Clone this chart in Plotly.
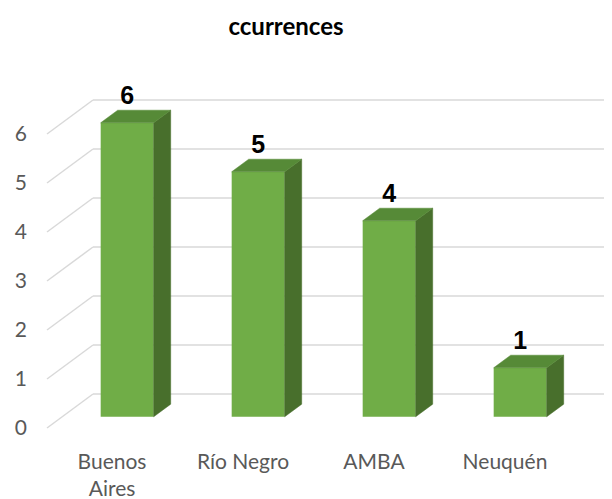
import plotly.graph_objects as go

# ---- data ----
categories = ["Buenos Aires", "Río Negro", "AMBA", "Neuquén"]
tick_labels = ["Buenos<br>Aires", "Río Negro", "AMBA", "Neuquén"]
values = [6, 5, 4, 1]
y_ticks = [0, 1, 2, 3, 4, 5, 6]
title_text = "ccurrences"

# ---- pseudo-3D geometry (in axis units) ----
DX = 46 / 131      # depth shift along x for full depth
DY = 34 / 49       # depth shift along y for full depth
T0, T1 = 0.33, 0.70  # bar front / back depth
W = 53 / 131       # bar width
XL = (47 - 112) / 131  # left end of the floor/wall grid at front plane

# page layout (browser body has an 8px margin)
OFF = 8
PAGE_W, PAGE_H = 612, 499
WIDTH, HEIGHT = PAGE_W - OFF, PAGE_H - OFF
PLOT_L, PLOT_R, PLOT_T, PLOT_B = 28, 612, 60, 447   # page pixels
L = PLOT_L - OFF
R = 0
T = PLOT_T - OFF
B = HEIGHT - (PLOT_B - OFF)
PX_X, PX_Y = 131, 49
x_min = (PLOT_L - 112) / PX_X
x_max = (PLOT_R - 112) / PX_X
y_min = (428 - PLOT_B) / PX_Y
y_max = (428 - PLOT_T) / PX_Y

FRONT = "#70AD47"
TOP = "#568A37"
SIDE = "#486F2C"
GRID = "#D9D9D9"

xs = list(range(len(categories)))
fig = go.Figure()

# front faces
fig.add_trace(go.Bar(
    x=[i + T0 * DX for i in xs], y=values, base=T0 * DY, width=W,
    marker=dict(color=FRONT, line=dict(width=0)), hoverinfo="skip"))

# side and top faces
sx, sy = [], []
tx, ty = [], []
for i, v in zip(xs, values):
    xr0 = i + W / 2 + T0 * DX
    xr1 = i + W / 2 + T1 * DX
    xl0 = i - W / 2 + T0 * DX
    xl1 = i - W / 2 + T1 * DX
    sx += [xr0, xr1, xr1, xr0, xr0, None]
    sy += [T0 * DY, T1 * DY, v + T1 * DY, v + T0 * DY, T0 * DY, None]
    tx += [xl0, xr0, xr1, xl1, xl0, None]
    ty += [v + T0 * DY, v + T0 * DY, v + T1 * DY, v + T1 * DY, v + T0 * DY, None]

fig.add_trace(go.Scatter(x=sx, y=sy, mode="lines", fill="toself",
                         fillcolor=SIDE, line=dict(color=SIDE, width=0.5),
                         hoverinfo="skip"))
fig.add_trace(go.Scatter(x=tx, y=ty, mode="lines", fill="toself",
                         fillcolor=TOP, line=dict(color=TOP, width=0.5),
                         hoverinfo="skip"))

# data labels
fig.add_trace(go.Scatter(
    x=[i + T0 * DX for i in xs], y=[v + T1 * DY for v in values],
    mode="text", text=[str(v) for v in values], textposition="top center",
    textfont=dict(family="Arial", size=25, color="black", weight="bold"),
    hoverinfo="skip"))

# grid (wall + floor slant)
shapes = []
for v in y_ticks:
    shapes.append(dict(type="line", xref="x", yref="y", x0=XL, y0=v,
                       x1=XL + DX, y1=v + DY, layer="below",
                       line=dict(color=GRID, width=1.5)))
    shapes.append(dict(type="line", xref="x", yref="y", x0=XL + DX, y0=v + DY,
                       x1=x_max, y1=v + DY, layer="below",
                       line=dict(color=GRID, width=1.5)))

fig.update_layout(
    width=WIDTH, height=HEIGHT,
    margin=dict(l=L, r=R, t=T, b=B, autoexpand=False),
    paper_bgcolor="white", plot_bgcolor="white",
    showlegend=False, shapes=shapes,
    title=dict(text=title_text, x=(286 - OFF) / WIDTH, xanchor="center",
               xref="container", yref="container",
               y=1 - (27 - OFF) / HEIGHT, yanchor="middle",
               font=dict(family="Lato", size=24, color="black", weight="bold")),
    xaxis=dict(range=[x_min, x_max], tickvals=xs, ticktext=tick_labels,
               showgrid=False, zeroline=False, showline=False, ticks="",
               automargin=False,
               tickfont=dict(family="Lato", size=21, color="#595959")),
    yaxis=dict(range=[y_min, y_max], tickvals=y_ticks,
               showgrid=False, zeroline=False, showline=False, ticks="",
               automargin=False,
               tickfont=dict(family="Lato", size=21, color="#595959")),
)

fig.write_html("out.html")
